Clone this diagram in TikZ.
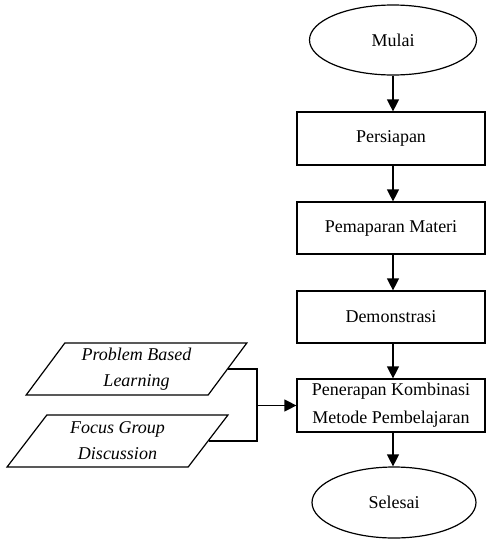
\documentclass[tikz,border=0pt]{standalone}
\usepackage{fontspec}
\setmainfont{Liberation Serif}
\usepackage{tikz}
\usetikzlibrary{
  shapes.geometric,      % Ellipse and parallelogram (trapezium) nodes
  arrows.meta
}

\tikzset{
  flowline/.style={line width=1.2pt},
  flowarrow/.style={flowline, -{Triangle[width=12pt,length=12pt]}},
  terminal/.style={draw, ellipse, flowline, inner sep=0pt},
  process/.style={draw, rectangle, flowline, minimum width=188pt, align=center, inner sep=0pt},
  inputdata/.style={draw, trapezium, trapezium left angle=55, trapezium right angle=125,
    trapezium stretches=true, flowline, minimum width=221pt, minimum height=52pt,
    align=center, inner sep=0pt, font=\fontsize{18}{26}\selectfont\itshape}
}

\begin{document}
\begin{tikzpicture}[x=1pt, y=-1pt, font=\fontsize{18}{28}\selectfont]
                \useasboundingbox (0,0) rectangle (487,541);

                % Start and end of the flow
                \node[terminal, minimum width=167pt, minimum height=70pt] (mulai) at (393,40) {Mulai};
                \node[terminal, minimum width=164pt, minimum height=71pt] (selesai) at (394,502.5) {Selesai};

                % Main steps
                \node[process, minimum height=53pt] (persiapan) at (391,138.5) {Persiapan};
                \node[process, minimum height=52pt] (pemaparan) at (391,228) {Pemaparan Materi};
                \node[process, minimum height=52pt] (demonstrasi) at (391,317) {Demonstrasi};
                \node[process, minimum height=53pt] (penerapan) at (391,405.5) {Penerapan Kombinasi\\Metode Pembelajaran};

                % Methods combined in the last step
                \node[inputdata] (pbl) at (136.5,369) {Problem Based\\Learning};
                \node[inputdata] (fgd) at (117.5,441) {Focus Group\\Discussion};

                % Arrows down the main column
                \draw[flowarrow] (mulai.south -| 393,0) -- (393,0 |- persiapan.north);
                \draw[flowarrow] (persiapan.south -| 393,0) -- (393,0 |- pemaparan.north);
                \draw[flowarrow] (pemaparan.south -| 393,0) -- (393,0 |- demonstrasi.north);
                \draw[flowarrow] (demonstrasi.south -| 393,0) -- (393,0 |- penerapan.north);
                \draw[flowarrow] (penerapan.south -| 393,0) -- (393,0 |- selesai.north);

                % Bracket joining both methods
                \coordinate (join) at (257,405.5);
                \draw[flowline] (pbl.east) -| (join) |- (fgd.east);
                \draw[flowarrow] (join) -- (penerapan.west);
            \end{tikzpicture}
\end{document}
